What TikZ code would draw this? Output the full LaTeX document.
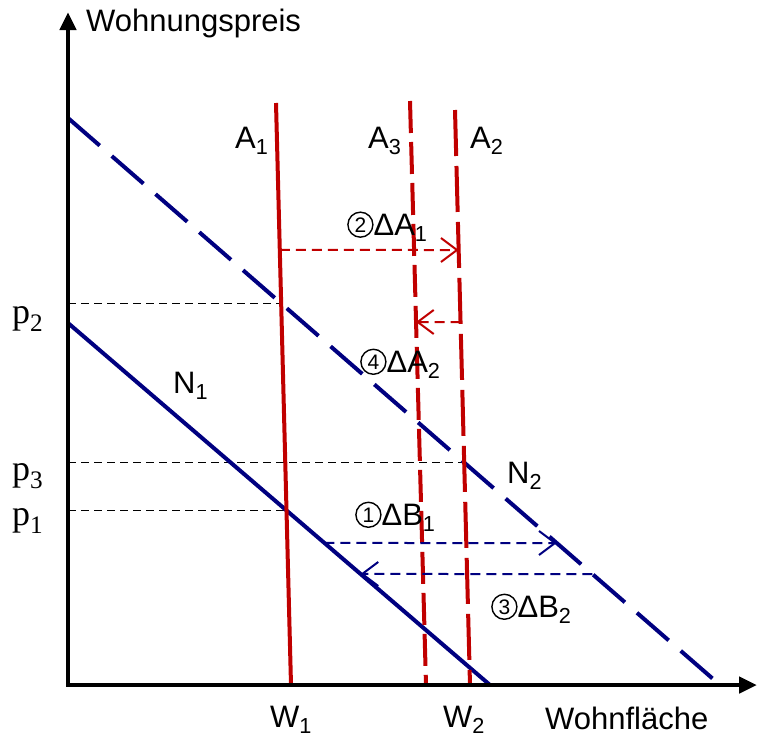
\documentclass[tikz,border=0pt]{standalone}
\usepackage{fontspec}
\setmainfont{Liberation Sans}
\newfontfamily\pfont{Liberation Serif}
\usetikzlibrary{arrows.meta}
\definecolor{CurveRed}{HTML}{C00000}
\definecolor{CurveBlue}{HTML}{000080}
\newcommand{\circnum}[1]{\tikz[baseline={([yshift=-3pt]cn.base)}]\node[circle,draw,line width=1.4pt,minimum size=25pt,inner sep=0pt,font=\fontsize{21}{21}\selectfont] (cn) {#1};}

\begin{document}
\begin{tikzpicture}[x=1pt,y=-1pt,
  lbl/.style={font=\fontsize{31}{34}\selectfont,inner sep=0pt,anchor=base west},
  plbl/.style={font=\pfont\fontsize{36}{38}\selectfont,inner sep=0pt,anchor=base west},
  axis/.style={line width=4.5pt,-{Triangle[length=18pt,width=16pt]}},
  demand/.style={CurveBlue,line width=4pt},
  supply/.style={CurveRed,line width=4pt},
  guide/.style={line width=1.3pt,dash pattern=on 8pt off 5pt},
  shiftarr/.style={line width=2pt,dash pattern=on 10pt off 6pt,-{Straight Barb[length=16pt,width=24pt]}}]
\useasboundingbox (0,0) rectangle (758,740);

\coordinate (O) at (68,685);
\coordinate (n1t) at (68,323); \coordinate (n1b) at (490,685);
\coordinate (n2t) at (68,118); \coordinate (n2b) at (720,685);
\coordinate (a1t) at (276,103); \coordinate (a1b) at (291,685);
\coordinate (a3t) at (410,101); \coordinate (a3b) at (426,685);
\coordinate (a2t) at (455,110); \coordinate (a2b) at (470,685);
\coordinate (r1l) at (0,250); \coordinate (r1r) at (760,250);
\coordinate (r2l) at (0,322); \coordinate (r2r) at (760,322);
\coordinate (r3l) at (0,543); \coordinate (r3r) at (760,543);
\coordinate (r4l) at (0,574); \coordinate (r4r) at (760,574);

\coordinate (p2x) at (intersection of a1t--a1b and n2t--n2b);
\coordinate (p1x) at (intersection of a1t--a1b and n1t--n1b);
\coordinate (p3x) at (intersection of a2t--a2b and n2t--n2b);

\draw[guide] (O |- p2x) -- (p2x);
\draw[guide] (O |- p3x) -- (p3x);
\draw[guide] (O |- p1x) -- (p1x);

\draw[demand] (n1t) -- (n1b);
\draw[demand,dash pattern=on 42pt off 16pt] (n2t) -- (n2b);
\draw[supply] (a1t) -- (a1b);
\draw[supply,dash pattern=on 32pt off 9pt] (a3t) -- (a3b);
\draw[supply,dash pattern=on 46pt off 10pt] (a2t) -- (a2b);

\draw[shiftarr,CurveRed] (intersection of a1t--a1b and r1l--r1r) -- (intersection of a2t--a2b and r1l--r1r);
\draw[shiftarr,CurveRed] (intersection of a2t--a2b and r2l--r2r) -- (intersection of a3t--a3b and r2l--r2r);
\draw[shiftarr,CurveBlue] (intersection of n1t--n1b and r3l--r3r) -- (intersection of n2t--n2b and r3l--r3r);
\draw[shiftarr,CurveBlue] (intersection of n2t--n2b and r4l--r4r) -- (intersection of n1t--n1b and r4l--r4r);

\draw[axis] ([yshift=2pt]O) -- (68,12);
\draw[axis] ([xshift=-2pt]O) -- (757,685);

\node[lbl] (ylab) at (86,31) {Wohnungspreis};
\node[lbl] (xlab) at (545,729) {Wohnfläche};
\node[lbl] (w1) at (270,727) {W\textsubscript{1}};
\node[lbl] (w2) at (443,727) {W\textsubscript{2}};
\node[lbl] (la1) at (235,148) {A\textsubscript{1}};
\node[lbl] (la3) at (368,148) {A\textsubscript{3}};
\node[lbl] (la2) at (470,148) {A\textsubscript{2}};
\node[lbl] (ln1) at (173,393) {N\textsubscript{1}};
\node[lbl] (ln2) at (507,483) {N\textsubscript{2}};
\node[lbl] (da1) at (347,235) {\circnum{2}ΔA\textsubscript{1}};
\node[lbl] (da2) at (360,372) {\circnum{4}ΔA\textsubscript{2}};
\node[lbl] (db1) at (355,525) {\circnum{1}ΔB\textsubscript{1}};
\node[lbl] (db2) at (491,617) {\circnum{3}ΔB\textsubscript{2}};
\node[plbl] (lp2) at (12,323) {p\textsubscript{2}};
\node[plbl] (lp3) at (12,480) {p\textsubscript{3}};
\node[plbl] (lp1) at (12,525) {p\textsubscript{1}};
\end{tikzpicture}
\end{document}
